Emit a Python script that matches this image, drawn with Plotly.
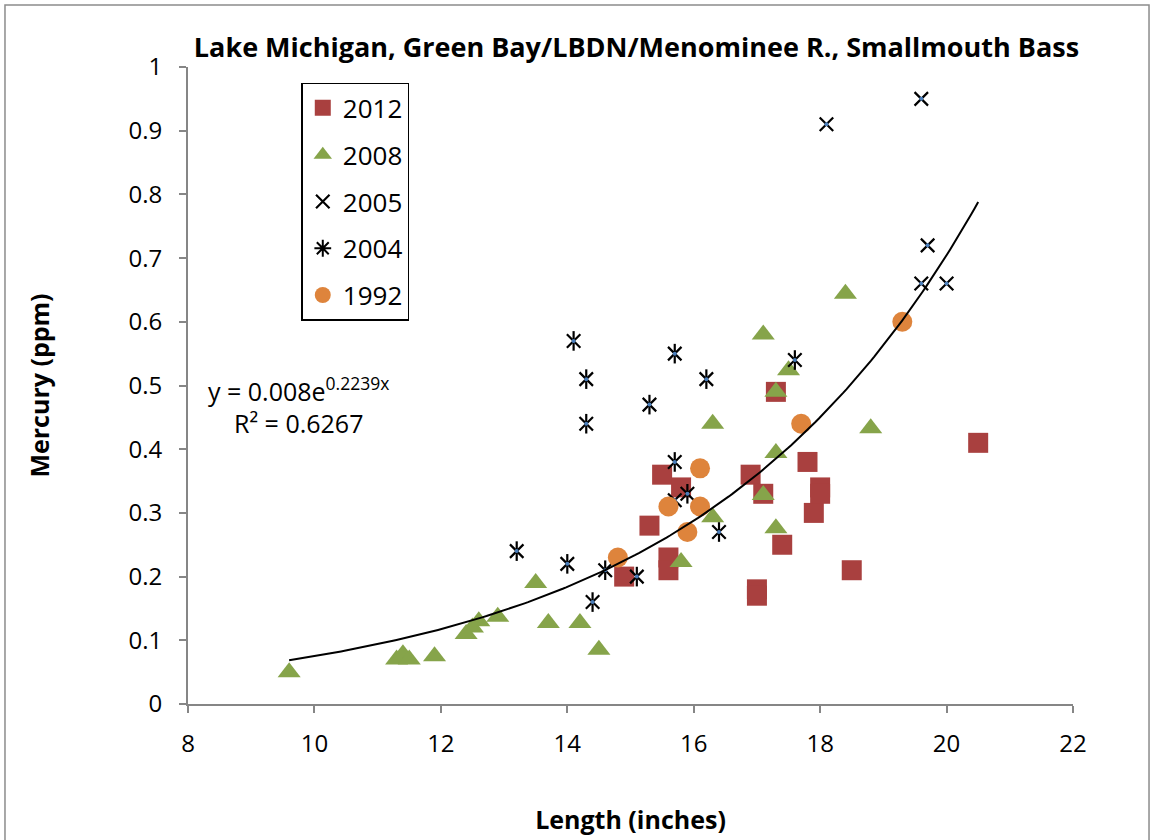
import numpy as np
import plotly.graph_objects as go

# ---- data ----
len_2012 = [14.9, 15.3, 15.5, 15.6, 15.6, 15.8, 16.9, 17.0, 17.0, 17.1, 17.3, 17.4, 17.8, 17.9, 18.0, 18.0, 18.5, 20.5]
hg_2012 = [0.20, 0.28, 0.36, 0.23, 0.21, 0.34, 0.36, 0.18, 0.17, 0.33, 0.49, 0.25, 0.38, 0.30, 0.34, 0.33, 0.21, 0.41]

len_2008 = [9.6, 11.3, 11.4, 11.5, 11.9, 12.4, 12.5, 12.6, 12.9, 13.5, 13.7, 14.2, 14.5, 15.8, 16.3, 16.3,
            17.1, 17.1, 17.3, 17.3, 17.3, 17.5, 18.4, 18.8]
hg_2008 = [0.05, 0.07, 0.078, 0.07, 0.075, 0.11, 0.12, 0.13, 0.137, 0.19, 0.127, 0.127, 0.085, 0.223, 0.44, 0.293,
           0.58, 0.328, 0.49, 0.394, 0.276, 0.524, 0.644, 0.433]

len_2005 = [15.7, 18.1, 19.6, 19.7, 19.6, 20.0]
hg_2005 = [0.32, 0.91, 0.95, 0.72, 0.66, 0.66]

len_2004 = [13.2, 14.0, 14.1, 14.3, 14.3, 14.4, 14.6, 15.1, 15.3, 15.7, 15.7, 15.9, 16.2, 16.4, 17.6]
hg_2004 = [0.24, 0.22, 0.57, 0.51, 0.44, 0.16, 0.21, 0.20, 0.47, 0.55, 0.38, 0.33, 0.51, 0.27, 0.54]

len_1992 = [14.8, 15.6, 15.9, 16.1, 16.1, 17.7, 19.3]
hg_1992 = [0.23, 0.31, 0.27, 0.37, 0.31, 0.44, 0.60]

# exponential trendline reported on the chart: y = a * exp(b * x)
fit_a = 0.008
fit_b = 0.2239
fit_r2 = 0.6267
fit_x_min = 9.6
fit_x_max = 20.5

x_ticks = [8, 10, 12, 14, 16, 18, 20, 22]
y_ticks = [0, 0.1, 0.2, 0.3, 0.4, 0.5, 0.6, 0.7, 0.8, 0.9, 1]

FONT = "Open Sans"

fig = go.Figure()

fig.add_trace(go.Scatter(x=len_2012, y=hg_2012, mode="markers", name="2012", legendgroup="g1",
                         marker=dict(symbol="square", size=20, color="#A9403F")))
fig.add_trace(go.Scatter(x=len_2008, y=hg_2008, mode="markers", name="2008", legendgroup="g2",
                         marker=dict(symbol="triangle-up", size=20, color="#86A44A")))
fig.add_trace(go.Scatter(x=len_2005, y=hg_2005, mode="markers", name="2005", legendgroup="g3",
                         marker=dict(symbol="x-thin", size=13.5, color="black",
                                     line=dict(color="black", width=2.2))))
fig.add_trace(go.Scatter(x=len_2005, y=hg_2005, mode="markers", showlegend=False, hoverinfo="skip",
                         marker=dict(symbol="circle", size=4, color="#4A7EBB")))
# 2004: legend entry + asterisk drawn as x + vertical bar
fig.add_trace(go.Scatter(x=[None], y=[None], mode="markers", name="2004", legendgroup="g4",
                         marker=dict(symbol="asterisk-open", size=14, color="black",
                                     line=dict(color="black", width=2))))
fig.add_trace(go.Scatter(x=len_2004, y=hg_2004, mode="markers", showlegend=False, legendgroup="g4",
                         marker=dict(symbol="x-thin", size=13.5, color="black",
                                     line=dict(color="black", width=2.2))))
fig.add_trace(go.Scatter(x=len_2004, y=hg_2004, mode="markers", showlegend=False, legendgroup="g4",
                         marker=dict(symbol="line-ns", size=14, color="black",
                                     line=dict(color="black", width=2.2))))
fig.add_trace(go.Scatter(x=len_2004, y=hg_2004, mode="markers", showlegend=False, hoverinfo="skip",
                         marker=dict(symbol="circle", size=4, color="#4A7EBB")))
fig.add_trace(go.Scatter(x=len_1992, y=hg_1992, mode="markers", name="1992", legendgroup="g5",
                         marker=dict(symbol="circle", size=20, color="#DE843C")))

fx = np.linspace(fit_x_min, fit_x_max, 200)
fig.add_trace(go.Scatter(x=fx, y=fit_a * np.exp(fit_b * fx), mode="lines", showlegend=False,
                         line=dict(color="black", width=2), hoverinfo="skip"))

axis_common = dict(showgrid=False, zeroline=False, showline=True, linecolor="#868686", linewidth=2,
                   ticks="outside", ticklen=7, tickwidth=1.5, tickcolor="#868686", automargin=False,
                   tickfont=dict(family=FONT, size=24, color="black"), mirror=False)

fig.update_layout(
    width=1153, height=840,
    margin=dict(l=188, r=80, t=67, b=136),
    paper_bgcolor="white", plot_bgcolor="white",
    font=dict(family=FONT, color="black"),
    title=dict(text="<b>Lake Michigan, Green Bay/LBDN/Menominee R., Smallmouth Bass</b>",
               x=0.552, xanchor="center", y=0.943, yanchor="middle",
               font=dict(family=FONT, size=27, color="black")),
    xaxis=dict(range=[8, 22], tickvals=x_ticks, ticktext=[str(v) for v in x_ticks],
               ticklabelstandoff=10,
               title=dict(text="<b>Length (inches)</b>", font=dict(family=FONT, size=25), standoff=54),
               **axis_common),
    yaxis=dict(range=[0, 1], tickvals=y_ticks, ticktext=[f"{v:g}" for v in y_ticks],
               ticklabelstandoff=12,
               title=dict(text="<b>Mercury (ppm)</b>", font=dict(family=FONT, size=25), standoff=72),
               **axis_common),
    legend=dict(x=0.128, y=0.975, xanchor="left", yanchor="top", bgcolor="white",
                bordercolor="black", borderwidth=1.5, tracegroupgap=10, entrywidth=90,
                font=dict(family=FONT, size=26, color="black")),
    showlegend=True,
)

fig.add_annotation(xref="paper", yref="paper", x=0.0203, y=0.493, xanchor="left", yanchor="middle",
                   text=f"y = {fit_a:g}e<sup>{fit_b:g}x</sup>", showarrow=False,
                   font=dict(family=FONT, size=25, color="black"))
fig.add_annotation(xref="paper", yref="paper", x=0.0497, y=0.441, xanchor="left", yanchor="middle",
                   text=f"R² = {fit_r2:g}", showarrow=False,
                   font=dict(family=FONT, size=25, color="black"))

# outer chart border
fig.add_shape(type="rect", xref="paper", yref="paper", x0=-0.2068, x1=1.0859, y0=-0.23, y1=1.0973,
              line=dict(color="#8C8C8C", width=1.5), fillcolor="rgba(0,0,0,0)", layer="below")

fig.write_html("out.html", config={"displayModeBar": False},
               post_script="document.body.style.margin='0';")
